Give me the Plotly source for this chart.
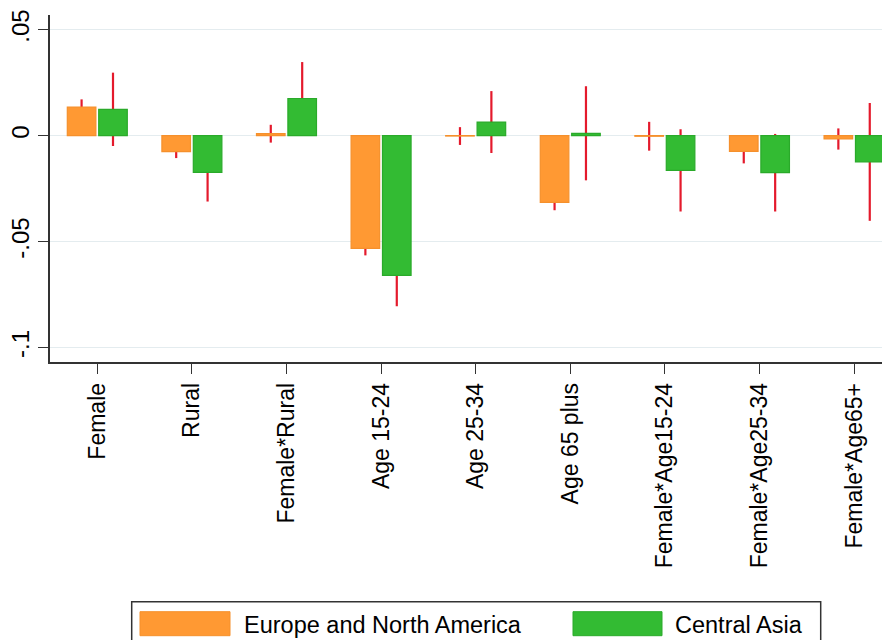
import plotly.graph_objects as go

# ---- data ----
categories = ["Female", "Rural", "Female*Rural", "Age 15-24", "Age 25-34",
              "Age 65 plus", "Female*Age15-24", "Female*Age25-34", "Female*Age65+"]
series_names = ["Europe and North America", "Central Asia"]
europe = [0.0135, -0.0076, 0.0009, -0.0532, -0.0002, -0.0315, -0.0003, -0.0074, -0.0016]
europe_ci = [0.0036, 0.0030, 0.0042, 0.0033, 0.0042, 0.0037, 0.0068, 0.0057, 0.0050]
asia = [0.0124, -0.0173, 0.0175, -0.0659, 0.0064, 0.0011, -0.0164, -0.0175, -0.0124]
asia_ci = [0.0173, 0.0138, 0.0172, 0.0146, 0.0146, 0.0222, 0.0194, 0.0183, 0.0278]
y_tickvals = [-0.1, -0.05, 0, 0.05]
y_ticktext = ["-.1", "-.05", "0", ".05"]

# ---- style / layout (screen pixels; page body has an 8px margin) ----
OFF = 8
W, H = 890 - OFF, 640 - OFF
L, R, T, B = 50, 890, 15, 362          # plot area in screen pixels
ORANGE, ORANGE_LINE = "#ff9933", "#f5902c"
GREEN, GREEN_LINE = "#33bb33", "#2aaa2a"
RED = "#e41a2c"
GRID = "#e4ecef"
AXIS = "#333333"
FONT = "Liberation Sans, Arial, Helvetica, sans-serif"
xrange_ = [-0.5, 8.38]
yrange_ = [-0.1068, 0.0569]

x_idx = list(range(len(categories)))

fig = go.Figure()

# error spikes (drawn in base subplot, beneath the bars)
for vals, ci in [(europe, europe_ci), (asia, asia_ci)]:
    fig.add_trace(go.Bar(
        x=x_idx, y=vals, xaxis="x", yaxis="y",
        marker=dict(color="rgba(0,0,0,0)", line=dict(width=0)),
        error_y=dict(type="data", array=ci, symmetric=True, color=RED,
                     thickness=2.2, width=0),
        showlegend=False, hoverinfo="skip"))

# visible bars (overlay subplot, on top of spikes)
for vals, name, col, lc in [(europe, series_names[0], ORANGE, ORANGE_LINE),
                            (asia, series_names[1], GREEN, GREEN_LINE)]:
    fig.add_trace(go.Bar(
        x=x_idx, y=vals, name=name, xaxis="x2", yaxis="y2",
        marker=dict(color=col, line=dict(color=lc, width=1.2)),
        showlegend=False))

def px(xp):
    return (xp - L) / (R - L)

def py(yp):
    return (B - yp) / (B - T)

shapes = [
    dict(type="rect", xref="paper", yref="paper",
         x0=px(131.7), x1=px(820.7), y0=py(601.7), y1=py(660),
         line=dict(color=AXIS, width=1.5), fillcolor="white", layer="above"),
    dict(type="rect", xref="paper", yref="paper",
         x0=px(140), x1=px(230), y0=py(611.7), y1=py(635.7),
         line=dict(color=ORANGE_LINE, width=1), fillcolor=ORANGE, layer="above"),
    dict(type="rect", xref="paper", yref="paper",
         x0=px(573), x1=px(662), y0=py(611.7), y1=py(635.7),
         line=dict(color=GREEN_LINE, width=1), fillcolor=GREEN, layer="above"),
]
annotations = [
    dict(xref="paper", yref="paper", x=px(242), y=py(624.5), text=series_names[0],
         showarrow=False, xanchor="left", yanchor="middle",
         font=dict(family=FONT, size=23.5, color="black")),
    dict(xref="paper", yref="paper", x=px(673), y=py(624.5), text=series_names[1],
         showarrow=False, xanchor="left", yanchor="middle",
         font=dict(family=FONT, size=23.5, color="black")),
]

fig.update_layout(
    width=W, height=H,
    margin=dict(l=L - OFF, r=(W + OFF) - R, t=T - OFF, b=(H + OFF) - B, pad=0),
    paper_bgcolor="white", plot_bgcolor="white",
    barmode="group", bargap=0.336, bargroupgap=0.09,
    font=dict(family=FONT, size=22, color="black"),
    showlegend=False,
    xaxis=dict(range=xrange_, tickvals=x_idx, ticktext=categories, tickangle=-90,
               showgrid=False, zeroline=False, showline=True, linecolor=AXIS,
               linewidth=1.5, ticks="outside", ticklen=10, tickwidth=1.3,
               tickcolor=AXIS, tickfont=dict(family=FONT, size=23, color="black")),
    yaxis=dict(range=yrange_, tickvals=y_tickvals, ticktext=y_ticktext, tickangle=-90,
               showgrid=True, gridcolor=GRID, gridwidth=1.3,
               zeroline=False, showline=True, linecolor=AXIS, linewidth=1.5,
               ticks="outside", ticklen=10, tickwidth=1.3, tickcolor=AXIS,
               tickfont=dict(family=FONT, size=24, color="black")),
    xaxis2=dict(range=xrange_, overlaying="x", visible=False),
    yaxis2=dict(range=yrange_, overlaying="y", visible=False),
    shapes=shapes, annotations=annotations,
)

fig.write_html("out.html")
